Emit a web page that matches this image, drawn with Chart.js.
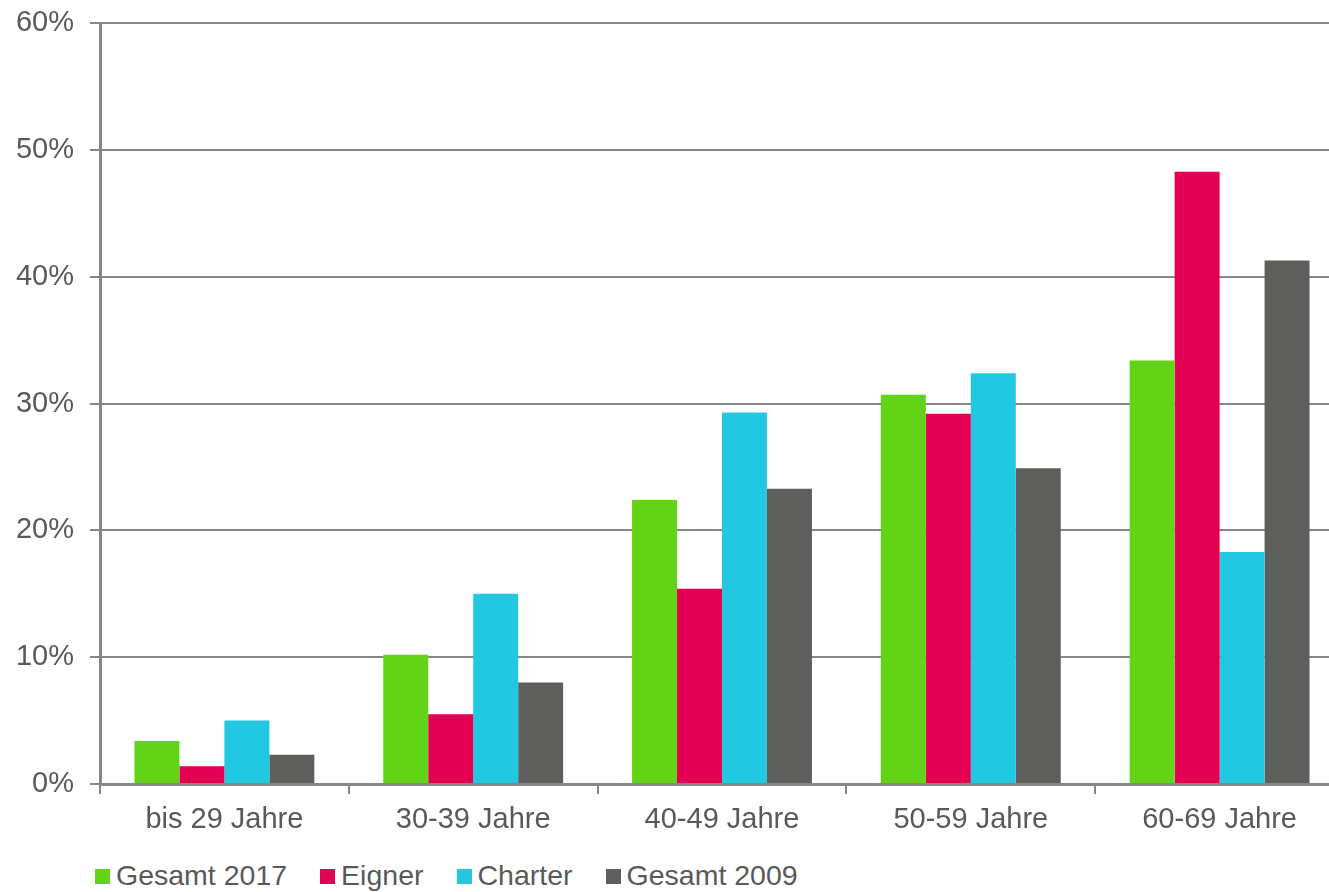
<!DOCTYPE html>
<html>
<head>
<meta charset="utf-8">
<script src="https://cdn.jsdelivr.net/npm/chart.js@4"></script>
<style>
  html, body { margin: 0; padding: 0; background: #fff; overflow: hidden; width: 1329px; height: 892px; }
  #wrap { position: absolute; left: 0; top: -10px; width: 1350px; height: 850px; }
  #legende { position: absolute; left: 95px; top: 859px; font-family: "Liberation Sans", Arial, sans-serif; font-size: 28.5px; color: #595959; white-space: nowrap; }
  #legende span.item { display: inline-block; margin-right: 33px; }
  #legende span.box { display: inline-block; width: 15px; height: 15px; margin-right: 6px; vertical-align: 1px; }
</style>
</head>
<body>
<div id="wrap"><canvas id="chartAlter"></canvas></div>
<div id="legende"></div>
<script>
const kategorien = ["bis 29 Jahre", "30-39 Jahre", "40-49 Jahre", "50-59 Jahre", "60-69 Jahre"];
const serien = ["Gesamt 2017", "Eigner", "Charter", "Gesamt 2009"];
const gesamt2017 = [3.4, 10.2, 22.4, 30.7, 33.4];
const eigner = [1.4, 5.5, 15.4, 29.2, 48.3];
const charter = [5.0, 15.0, 29.3, 32.4, 18.3];
const gesamt2009 = [2.3, 8.0, 23.3, 24.9, 41.3];
const farben = ["#62d418", "#e30052", "#22c8e1", "#5e5e5c"];

const werte = [gesamt2017, eigner, charter, gesamt2009];
const grau = "#868686";
const schrift = { family: "'Liberation Sans', Arial, sans-serif", size: 29 };

const canvas = document.getElementById("chartAlter");
canvas.width = 1350;
canvas.height = 850;

const chartAlter = new Chart(canvas.getContext("2d"), {
    type: "bar",
    data: {
        labels: kategorien,
        datasets: serien.map((s, i) => ({
            label: s,
            data: werte[i],
            backgroundColor: farben[i],
            borderWidth: 0
        }))
    },
    options: {
        responsive: false,
        animation: false,
        devicePixelRatio: 1,
        layout: { padding: { top: 12, right: 6, left: 0, bottom: 0 } },
        datasets: { bar: { categoryPercentage: 0.723, barPercentage: 1 } },
        plugins: { legend: { display: false }, tooltip: { enabled: false } },
        scales: {
            x: {
                grid: { drawOnChartArea: false, drawTicks: true, tickLength: 10, color: grau, lineWidth: 2, offset: true },
                border: { color: grau, width: 3 },
                ticks: { color: "#595959", font: schrift, padding: 9, maxRotation: 0 },
                afterFit: (s) => { s.height = 56; }
            },
            y: {
                min: 0,
                max: 60,
                ticks: { stepSize: 10, color: "#595959", font: schrift, padding: 16, callback: v => v + "%" },
                grid: { color: grau, lineWidth: 2, tickLength: 10 },
                border: { color: grau, width: 3 },
                afterFit: (s) => { s.width = 100; }
            }
        }
    }
});

// Legende als HTML
const legende = document.getElementById("legende");
serien.forEach((s, i) => {
    legende.innerHTML += `<span class="item"><span class="box" style="background:${farben[i]}"></span>${s}</span>`;
});
</script>
</body>
</html>
